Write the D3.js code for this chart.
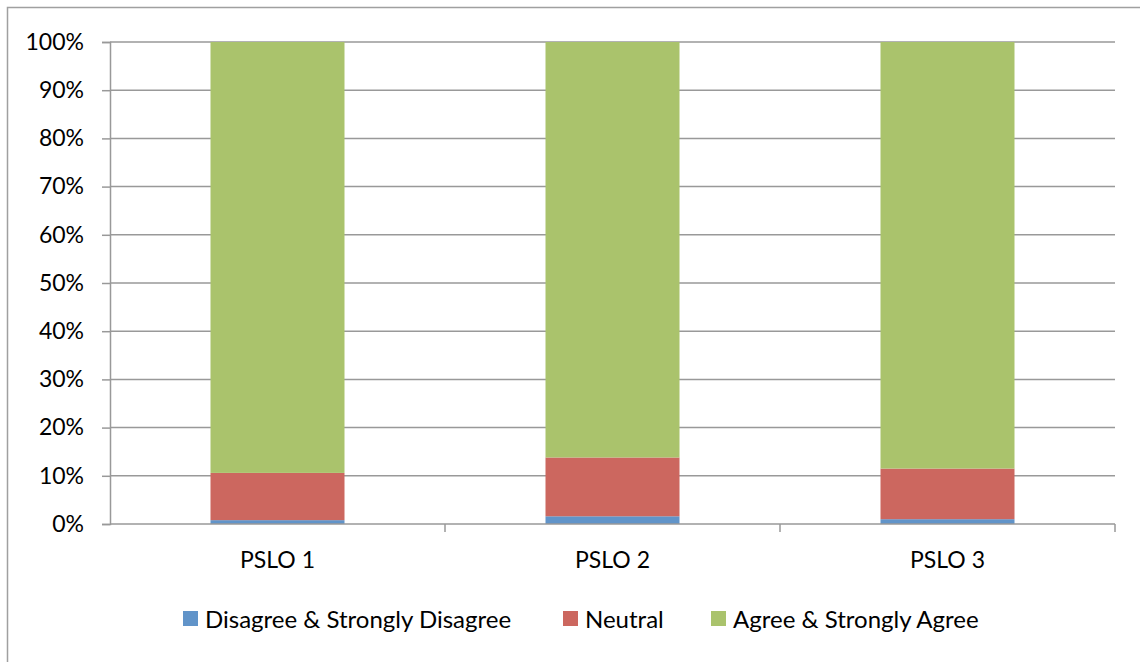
<!DOCTYPE html>
<html>
<head>
<meta charset="utf-8">
<script src="https://cdn.jsdelivr.net/npm/d3@7"></script>
<style>
  body { margin: 0; background: #fff; }
  text { font-family: Lato, "Open Sans", sans-serif; fill: #000; }
</style>
</head>
<body>
<div id="chart"></div>
<script>
var categories = ["PSLO 1", "PSLO 2", "PSLO 3"];
var seriesNames = ["Disagree & Strongly Disagree", "Neutral", "Agree & Strongly Agree"];
var disagree = [0.8, 1.6, 1.0];
var neutral = [9.8, 12.2, 10.5];
var agree = [89.4, 86.2, 88.5];
var yTicks = [0, 10, 20, 30, 40, 50, 60, 70, 80, 90, 100];
var colors = ["#6194c9", "#cc675f", "#aac36c"];

var W = 1140, H = 662;
var plot = {left: 110, right: 1115, top: 42, bottom: 524};

var svg = d3.select("#chart").append("svg")
    .attr("width", W)
    .attr("height", H);

// outer chart border
svg.append("rect")
    .attr("x", 7.5).attr("y", 7.5)
    .attr("width", 1140).attr("height", 670)
    .attr("fill", "#fff")
    .attr("stroke", "#a0a0a0")
    .attr("stroke-width", 1.5);

var x = d3.scaleBand()
    .domain(categories)
    .range([plot.left, plot.right])
    .paddingInner(0.6)
    .paddingOuter(0.3);

var y = d3.scaleLinear().domain([0, 100]).range([plot.bottom, plot.top]);

// gridlines
svg.append("g").selectAll("line")
    .data(yTicks.filter(function(d){ return d > 0; }))
  .enter().append("line")
    .attr("x1", plot.left).attr("x2", plot.right)
    .attr("y1", function(d){ return y(d); })
    .attr("y2", function(d){ return y(d); })
    .attr("stroke", "#999")
    .attr("stroke-width", 1.5);

// stacked data
var rows = categories.map(function(c, i) {
    return {cat: c, s0: disagree[i], s1: neutral[i], s2: agree[i]};
});
var stack = d3.stack().keys(["s0", "s1", "s2"]);
var layers = stack(rows);

svg.append("g").selectAll("g")
    .data(layers)
  .enter().append("g")
    .attr("fill", function(d, i){ return colors[i]; })
  .selectAll("rect")
    .data(function(d){ return d; })
  .enter().append("rect")
    .attr("x", function(d){ return x(d.data.cat); })
    .attr("width", x.bandwidth())
    .attr("y", function(d){ return y(d[1]); })
    .attr("height", function(d){ return y(d[0]) - y(d[1]); });

// y axis
var yAxis = d3.axisLeft(y)
    .tickValues(yTicks)
    .tickSize(8)
    .tickPadding(18)
    .tickFormat(function(d){ return d + "%"; });
var ya = svg.append("g")
    .attr("transform", "translate(" + plot.left + ",0)")
    .call(yAxis);
ya.select(".domain").attr("stroke", "#999").attr("stroke-width", 1.5);
ya.selectAll(".tick line").attr("stroke", "#999").attr("stroke-width", 1.5);
ya.selectAll("text").style("font-size", "23px").style("font-family", "Lato, sans-serif").attr("fill", "#000");

// x axis line and tick marks between categories
svg.append("line")
    .attr("x1", plot.left).attr("x2", plot.right)
    .attr("y1", plot.bottom).attr("y2", plot.bottom)
    .attr("stroke", "#999").attr("stroke-width", 1.5);
var bounds = categories.map(function(c){ return x(c) - x.step() * x.paddingInner() / 2 + x.step(); });
svg.append("g").selectAll("line")
    .data(bounds)
  .enter().append("line")
    .attr("x1", function(d){ return d; }).attr("x2", function(d){ return d; })
    .attr("y1", plot.bottom).attr("y2", plot.bottom + 8)
    .attr("stroke", "#999").attr("stroke-width", 1.5);

svg.append("g").selectAll("text")
    .data(categories)
  .enter().append("text")
    .attr("x", function(d){ return x(d) + x.bandwidth() / 2; })
    .attr("y", 568)
    .attr("text-anchor", "middle")
    .style("font-size", "23px")
    .text(function(d){ return d; });

// legend
var legendX = [183, 563, 711];
var legend = svg.append("g").selectAll("g")
    .data(seriesNames)
  .enter().append("g")
    .attr("transform", function(d, i){ return "translate(" + legendX[i] + ",611)"; });
legend.append("rect")
    .attr("width", 15).attr("height", 15)
    .attr("fill", function(d, i){ return colors[i]; });
legend.append("text")
    .attr("x", 22).attr("y", 17)
    .style("font-size", "24px")
    .text(function(d){ return d; });
</script>
</body>
</html>
